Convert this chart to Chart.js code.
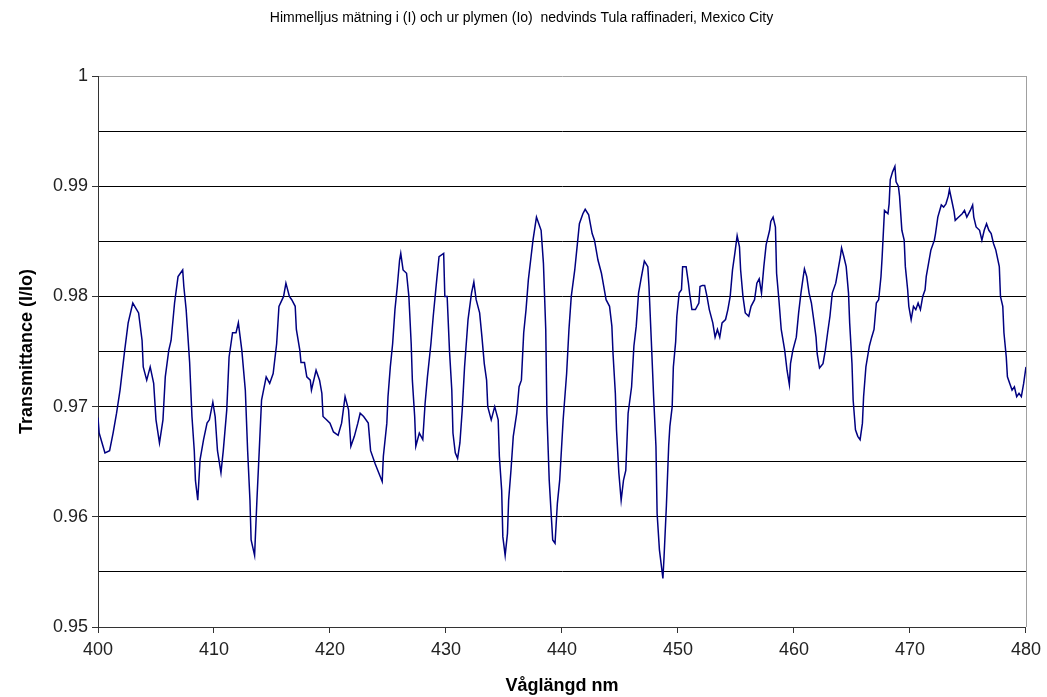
<!DOCTYPE html>
<html>
<head>
<meta charset="utf-8">
<script src="https://cdn.jsdelivr.net/npm/chart.js@4"></script>
<style>
  html, body { margin: 0; padding: 0; background: #ffffff; }
  canvas { display: block; }
</style>
</head>
<body>
<canvas id="grafico" width="1047" height="697"></canvas>
<script>
// ==================== DATA ====================
const chartTitle = "Himmelljus mätning i (I) och ur plymen (Io)  nedvinds Tula raffinaderi, Mexico City";
const xAxisTitle = "Våglängd nm";
const yAxisTitle = "Transmittance (I/Io)";

// wavelength (nm)
const wavelengths = [
  400.0,400.1,400.6,401.0,401.3,401.6,401.9,402.3,402.6,403.0,
  403.5,403.8,403.9,404.2,404.5,404.8,405.0,405.3,405.6,405.8,
  406.1,406.3,406.6,406.9,407.3,407.4,407.6,407.9,408.1,408.3,
  408.4,408.6,408.8,409.1,409.4,409.6,409.9,410.1,410.3,410.6,
  410.8,411.1,411.3,411.6,411.9,412.1,412.4,412.7,412.9,413.1,
  413.2,413.5,413.7,413.9,414.1,414.5,414.8,415.1,415.4,415.6,
  416.0,416.2,416.5,416.7,417.0,417.1,417.4,417.5,417.8,418.0,
  418.3,418.4,418.8,419.1,419.3,419.4,419.7,420.0,420.3,420.7,
  421.0,421.3,421.6,421.8,422.1,422.4,422.6,422.9,423.3,423.5,
  423.9,424.2,424.5,424.6,424.9,425.0,425.2,425.4,425.6,425.8,
  426.0,426.1,426.3,426.6,426.8,427.0,427.1,427.3,427.4,427.7,
  428.0,428.2,428.4,428.7,428.9,429.2,429.4,429.8,429.9,430.1,
  430.3,430.5,430.6,430.8,431.0,431.2,431.4,431.6,431.9,432.2,
  432.4,432.6,432.9,433.1,433.3,433.5,433.6,433.9,434.2,434.5,
  434.6,434.8,434.9,435.1,435.3,435.4,435.6,435.8,436.1,436.3,
  436.5,436.7,436.9,437.1,437.3,437.5,437.8,438.0,438.2,438.4,
  438.6,438.7,438.9,439.2,439.4,439.6,439.8,440.1,440.4,440.6,
  440.8,441.1,441.3,441.5,441.8,442.0,442.3,442.6,442.8,443.1,
  443.4,443.6,443.8,444.1,444.3,444.4,444.6,444.7,444.9,445.1,
  445.3,445.5,445.7,446.0,446.2,446.4,446.6,446.8,447.1,447.4,
  447.5,447.7,447.9,448.1,448.2,448.4,448.7,448.8,449.0,449.2,
  449.3,449.5,449.6,449.8,449.9,450.1,450.3,450.4,450.7,450.9,
  451.0,451.2,451.5,451.8,451.9,452.1,452.3,452.5,452.7,453.0,
  453.2,453.4,453.6,453.8,454.1,454.3,454.5,454.7,454.9,455.1,
  455.3,455.4,455.6,455.8,456.1,456.3,456.6,456.8,457.0,457.2,
  457.4,457.6,457.9,458.0,458.2,458.4,458.5,458.7,458.9,459.2,
  459.4,459.6,459.7,459.9,460.2,460.4,460.6,460.8,460.9,461.1,
  461.3,461.5,461.7,461.9,462.0,462.2,462.5,462.7,462.9,463.1,
  463.3,463.6,463.8,464.0,464.1,464.3,464.5,464.7,464.8,465.0,
  465.1,465.3,465.5,465.7,465.9,466.0,466.2,466.5,466.7,466.9,
  467.1,467.3,467.5,467.6,467.8,468.1,468.2,468.3,468.5,468.7,
  468.8,469.0,469.1,469.3,469.5,469.6,469.8,469.9,470.1,470.3,
  470.5,470.7,470.9,471.1,471.3,471.4,471.6,471.8,472.1,472.2,
  472.4,472.7,472.9,473.1,473.3,473.4,473.6,473.8,473.9,474.2,
  474.5,474.7,474.9,475.2,475.4,475.5,475.7,476.0,476.2,476.4,
  476.6,476.8,477.0,477.2,477.4,477.7,477.8,478.0,478.1,478.3,
  478.4,478.6,478.8,479.0,479.2,479.4,479.6,479.8,480.0
];

// transmittance I/Io at each wavelength
const transmittance = [
  0.9690,0.9676,0.9658,0.9660,0.9676,0.9694,0.9715,0.9751,0.9776,0.9794,
  0.9785,0.9760,0.9736,0.9724,0.9736,0.9721,0.9688,0.9667,0.9688,0.9727,
  0.9751,0.9760,0.9794,0.9818,0.9824,0.9809,0.9788,0.9740,0.9691,0.9660,
  0.9633,0.9615,0.9652,0.9670,0.9685,0.9688,0.9704,0.9691,0.9660,0.9640,
  0.9660,0.9697,0.9745,0.9767,0.9767,0.9776,0.9751,0.9715,0.9660,0.9615,
  0.9579,0.9565,0.9615,0.9660,0.9706,0.9727,0.9721,0.9730,0.9757,0.9791,
  0.9800,0.9812,0.9800,0.9797,0.9791,0.9770,0.9751,0.9740,0.9740,0.9727,
  0.9724,0.9715,0.9733,0.9724,0.9712,0.9691,0.9688,0.9685,0.9677,0.9674,
  0.9685,0.9709,0.9697,0.9664,0.9673,0.9685,0.9694,0.9691,0.9685,0.9660,
  0.9648,0.9640,0.9632,0.9655,0.9685,0.9709,0.9736,0.9757,0.9788,0.9809,
  0.9833,0.9839,0.9824,0.9821,0.9800,0.9757,0.9724,0.9691,0.9664,0.9676,
  0.9670,0.9703,0.9727,0.9757,0.9782,0.9815,0.9836,0.9839,0.9800,0.9800,
  0.9751,0.9715,0.9676,0.9658,0.9653,0.9667,0.9697,0.9736,0.9779,0.9803,
  0.9813,0.9797,0.9785,0.9763,0.9739,0.9724,0.9700,0.9688,0.9700,0.9688,
  0.9655,0.9624,0.9582,0.9565,0.9585,0.9615,0.9642,0.9673,0.9694,0.9718,
  0.9724,0.9767,0.9788,0.9815,0.9833,0.9851,0.9872,0.9866,0.9860,0.9830,
  0.9770,0.9694,0.9633,0.9579,0.9576,0.9612,0.9633,0.9688,0.9730,0.9770,
  0.9800,0.9824,0.9845,0.9866,0.9875,0.9879,0.9874,0.9857,0.9851,0.9833,
  0.9821,0.9809,0.9797,0.9791,0.9773,0.9748,0.9712,0.9679,0.9640,0.9615,
  0.9633,0.9642,0.9694,0.9718,0.9755,0.9773,0.9803,0.9815,0.9832,0.9827,
  0.9809,0.9760,0.9709,0.9664,0.9603,0.9570,0.9544,0.9564,0.9610,0.9665,
  0.9682,0.9700,0.9736,0.9759,0.9782,0.9803,0.9806,0.9827,0.9827,0.9812,
  0.9803,0.9788,0.9788,0.9794,0.9809,0.9810,0.9810,0.9800,0.9788,0.9776,
  0.9763,0.9770,0.9763,0.9776,0.9779,0.9788,0.9800,0.9824,0.9839,0.9855,
  0.9845,0.9824,0.9800,0.9785,0.9782,0.9791,0.9797,0.9812,0.9816,0.9803,
  0.9827,0.9847,0.9860,0.9868,0.9872,0.9863,0.9821,0.9797,0.9770,0.9751,
  0.9733,0.9720,0.9739,0.9751,0.9763,0.9785,0.9803,0.9818,0.9825,0.9818,
  0.9803,0.9794,0.9779,0.9763,0.9748,0.9735,0.9739,0.9751,0.9767,0.9782,
  0.9803,0.9812,0.9824,0.9836,0.9844,0.9836,0.9827,0.9803,0.9776,0.9739,
  0.9706,0.9679,0.9673,0.9670,0.9685,0.9709,0.9736,0.9755,0.9763,0.9770,
  0.9794,0.9797,0.9818,0.9836,0.9878,0.9875,0.9884,0.9906,0.9913,0.9918,
  0.9904,0.9900,0.9891,0.9860,0.9851,0.9827,0.9806,0.9791,0.9779,0.9791,
  0.9788,0.9794,0.9788,0.9800,0.9806,0.9818,0.9830,0.9842,0.9851,0.9857,
  0.9872,0.9883,0.9881,0.9884,0.9891,0.9897,0.9887,0.9877,0.9869,0.9872,
  0.9875,0.9878,0.9872,0.9878,0.9883,0.9872,0.9863,0.9860,0.9851,0.9860,
  0.9866,0.9860,0.9857,0.9848,0.9842,0.9827,0.9800,0.9791,0.9767,0.9745,
  0.9727,0.9721,0.9715,0.9718,0.9709,0.9712,0.9709,0.9721,0.9736
];

// axis ranges
const xMin = 400, xMax = 480, xStep = 10;
const yMin = 0.95, yMax = 1.0, yGridStep = 0.005;

// ==================== STYLE ====================
const FONT = "'Liberation Sans', Arial, sans-serif";
const isMajor = v => Math.round(v * 1000) % 10 === 0;

// gray frame line on the right side of the plot area
const rightFrame = {
  id: 'rightFrame',
  beforeDatasetsDraw(chart) {
    const { ctx, chartArea: a } = chart;
    ctx.save();
    ctx.strokeStyle = '#a0a0a0';
    ctx.lineWidth = 1;
    ctx.beginPath();
    ctx.moveTo(Math.round(a.right) + 0.5, a.top);
    ctx.lineTo(Math.round(a.right) + 0.5, a.bottom);
    ctx.stroke();
    ctx.restore();
  }
};

// ==================== CHART ====================
new Chart(document.getElementById('grafico'), {
  type: 'scatter',
  data: {
    datasets: [{
      data: wavelengths.map((x, i) => ({ x, y: transmittance[i] })),
      showLine: true,
      borderColor: '#000080',
      borderWidth: 1.5,
      pointRadius: 0,
      tension: 0
    }]
  },
  options: {
    responsive: false,
    animation: false,
    devicePixelRatio: 1,
    layout: { padding: { left: 16, right: 20, top: 0, bottom: 0 } },
    plugins: {
      legend: { display: false },
      tooltip: { enabled: false },
      title: {
        display: true,
        text: chartTitle,
        color: '#000000',
        font: { family: FONT, size: 14, weight: 'normal' },
        padding: { top: 10, bottom: 49.2 }
      }
    },
    scales: {
      x: {
        type: 'linear',
        min: xMin,
        max: xMax,
        ticks: {
          stepSize: xStep,
          color: '#222222',
          padding: 6,
          maxRotation: 0,
          font: { family: FONT, size: 18 }
        },
        grid: { drawOnChartArea: false, drawTicks: true, tickLength: 6, color: '#333333' },
        border: { display: true, color: '#333333', width: 1 },
        title: {
          display: true,
          text: xAxisTitle,
          color: '#000000',
          font: { family: FONT, size: 18, weight: 'bold' },
          padding: { top: 0, bottom: 0 }
        },
        afterFit: s => { s.height = 70; }
      },
      y: {
        min: yMin,
        max: yMax,
        ticks: {
          stepSize: yGridStep,
          color: '#222222',
          padding: 4,
          font: { family: FONT, size: 18 },
          callback: v => isMajor(v) ? String(Number(v.toFixed(2))) : ''
        },
        grid: {
          color: ctx => (ctx.tick && Math.abs(ctx.tick.value - yMax) < 1e-6) ? '#a0a0a0' : '#000000',
          tickColor: ctx => (ctx.tick && isMajor(ctx.tick.value)) ? '#333333' : 'rgba(0,0,0,0)',
          lineWidth: 1,
          tickLength: 6
        },
        border: { display: true, color: '#333333', width: 1 },
        title: {
          display: true,
          text: yAxisTitle,
          color: '#000000',
          font: { family: FONT, size: 18, weight: 'bold' },
          padding: { top: 0, bottom: 0 }
        },
        afterFit: s => { s.width = 82; }
      }
    }
  },
  plugins: [rightFrame]
});
</script>
</body>
</html>
